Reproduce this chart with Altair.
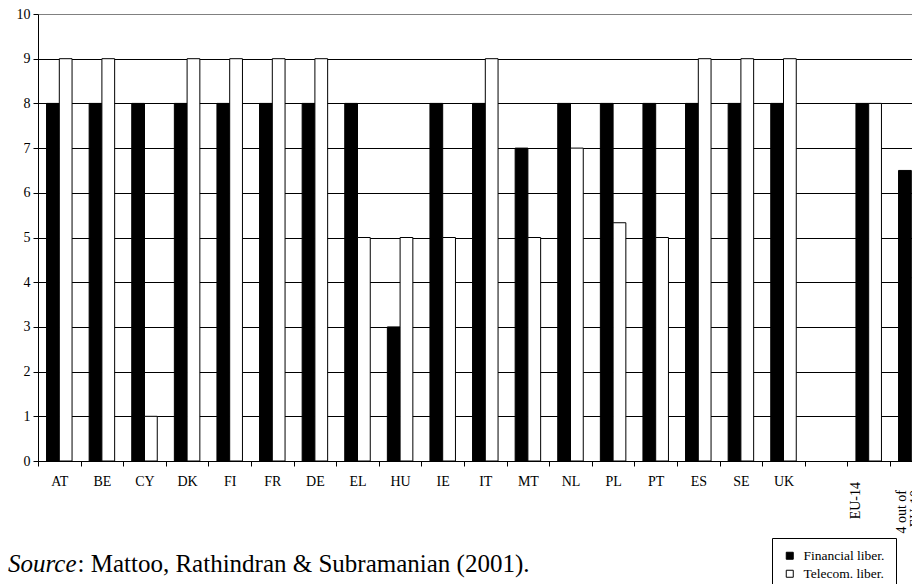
import altair as alt
import pandas as pd

countries = ["AT", "BE", "CY", "DK", "FI", "FR", "DE", "EL", "HU", "IE", "IT",
             "MT", "NL", "PL", "PT", "ES", "SE", "UK", " ", "EU-14", "4 out of EU-10"]
financial = [8, 8, 8, 8, 8, 8, 8, 8, 3, 8, 8, 7, 8, 8, 8, 8, 8, 8, None, 8, 6.5]
telecom = [9, 9, 1, 9, 9, 9, 9, 5, 5, 5, 9, 5, 7, 5.33, 5, 9, 9, 9, None, 8, 4.1]
series = ["Financial liber.", "Telecom. liber."]
rotated_cats = ["EU-14", "4 out of EU-10"]
rotated_text = ["EU-14", "4 out of\nEU-10"]
y_ticks = list(range(11))
source_italic = "Source"
source_rest = ": Mattoo, Rathindran & Subramanian (2001)."

FONT = "Liberation Serif"

rows = []
for c, f, t in zip(countries, financial, telecom):
    if f is not None:
        rows.append({"country": c, "series": series[0], "value": f})
    if t is not None:
        rows.append({"country": c, "series": series[1], "value": t})
df = pd.DataFrame(rows)

W, H = 874, 447

x_enc = alt.X(
    "country:N",
    sort=countries,
    scale=alt.Scale(domain=countries, range=[0, 894.6], paddingInner=0, paddingOuter=0),
    axis=alt.Axis(
        title=None, labelAngle=0, tickBand="extent", tickSize=5,
        tickColor="black", domainColor="black", labelColor="black",
        labelFont=FONT, labelFontSize=14, labelPadding=8,
        labelExpr="indexof(['EU-14','4 out of EU-10'], datum.value) >= 0 ? '' : datum.value",
        grid=False,
    ),
)

pad_nbsp = "\u00a0" * 28

bars = alt.Chart(df).mark_bar(stroke="black", strokeWidth=1).encode(
    x=x_enc,
    xOffset=alt.XOffset("series:N", sort=series,
                        scale=alt.Scale(domain=series, paddingInner=0, paddingOuter=0.67)),
    y=alt.Y("value:Q", scale=alt.Scale(domain=[0, 10], nice=False),
            axis=alt.Axis(
                title=None, values=y_ticks, tickSize=5, tickColor="black",
                domainColor="black", labelColor="black", labelFont=FONT,
                labelFontSize=14, labelPadding=3, grid=True,
                gridColor={"condition": {"test": "datum.value === 10", "value": "#808080"},
                           "value": "#000000"},
                gridWidth=1, gridOpacity=1,
            )),
    color=alt.Color("series:N", sort=series,
                    scale=alt.Scale(domain=series, range=["black", "white"]),
                    legend=alt.Legend(
                        title=None, orient="none", legendX=734, legendY=524,
                        fillColor="white", strokeColor="black", padding=11,
                        symbolType="square", symbolSize=49, symbolStrokeColor="black",
                        symbolStrokeWidth=1, labelFont=FONT, labelFontSize=13.5,
                        labelColor="black", rowPadding=3, symbolOpacity=1,
                        labelOffset=7, labelLimit=400,
                        labelExpr="datum.label + '" + pad_nbsp + "'",
                    )),
)

rot_df = pd.DataFrame({"country": rotated_cats, "label": rotated_text})

rot1 = alt.Chart(rot_df[rot_df.country == "EU-14"]).mark_text(
    angle=270, align="right", baseline="middle", font=FONT, fontSize=14,
    color="black", dy=-13,
).encode(x=x_enc, y=alt.value(H + 21), text="label:N")

rot2 = alt.Chart(rot_df[rot_df.country == "4 out of EU-10"]).mark_text(
    angle=270, align="right", baseline="middle", font=FONT, fontSize=14,
    color="black", lineBreak="\n", lineHeight=14, dy=-9,
).encode(x=x_enc, y=alt.value(H + 29), text="label:N")

src1 = alt.Chart(pd.DataFrame({"t": [source_italic]})).mark_text(
    align="left", baseline="middle", font=FONT, fontSize=25, fontStyle="italic", color="black",
).encode(x=alt.value(-30), y=alt.value(550), text="t:N")

src2 = alt.Chart(pd.DataFrame({"t": [source_rest]})).mark_text(
    align="left", baseline="middle", font=FONT, fontSize=25, color="black",
).encode(x=alt.value(39.5), y=alt.value(550), text="t:N")

chart = alt.layer(bars, rot1, rot2, src1, src2).properties(
    width=W, height=H,
    autosize=alt.AutoSizeParams(type="none"),
    padding={"left": 30, "top": 6, "right": 0, "bottom": 123},
    background="white",
).configure_view(stroke=None)

chart.save("out.html", embed_options={"renderer": "svg", "actions": False})
